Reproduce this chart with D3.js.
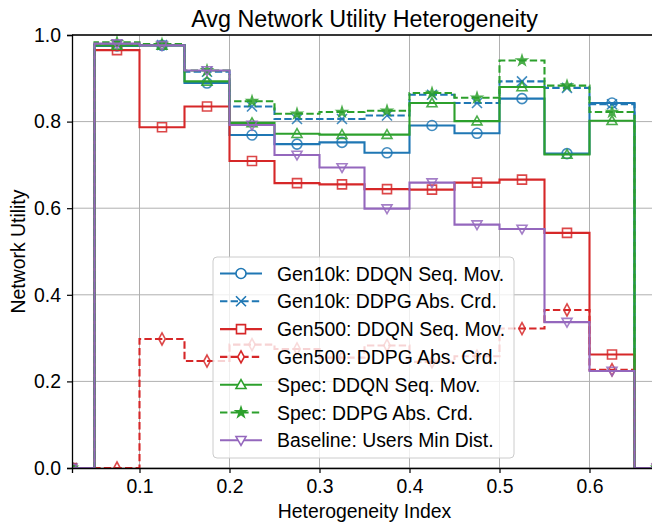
<!DOCTYPE html>
<html>
<head>
<meta charset="utf-8">
<script src="https://cdn.jsdelivr.net/npm/d3@7"></script>
<style>
  body { margin: 0; background: #fff; }
  svg { display: block; font-family: "Liberation Sans", Arial, sans-serif; }
</style>
</head>
<body>
<div id="chart"></div>
<script>
// heterogeneity index (bin centres)
const xValues = [0.025, 0.075, 0.125, 0.175, 0.225, 0.275, 0.325, 0.375, 0.425, 0.475, 0.525, 0.575, 0.625, 0.675];

const gen10kDDQN = [0, 0.975, 0.976, 0.889, 0.769, 0.748, 0.752, 0.728, 0.791, 0.773, 0.853, 0.726, 0.843, 0];
const gen10kDDPG = [0, 0.978, 0.977, 0.915, 0.835, 0.806, 0.806, 0.814, 0.862, 0.843, 0.893, 0.878, 0.840, 0];
const gen500DDQN = [0, 0.965, 0.787, 0.835, 0.709, 0.658, 0.655, 0.644, 0.643, 0.659, 0.666, 0.543, 0.262, 0];
const gen500DDPG = [0, 0, 0.298, 0.247, 0.285, 0.275, 0.255, 0.283, 0.245, 0.258, 0.322, 0.365, 0.227, 0];
const specDDQN = [0, 0.976, 0.976, 0.893, 0.797, 0.772, 0.770, 0.770, 0.843, 0.801, 0.880, 0.724, 0.802, 0];
const specDDPG = [0, 0.983, 0.979, 0.918, 0.847, 0.818, 0.822, 0.825, 0.866, 0.855, 0.941, 0.883, 0.822, 0];
const baseline = [0, 0.980, 0.976, 0.918, 0.792, 0.723, 0.694, 0.599, 0.659, 0.562, 0.552, 0.337, 0.224, 0];

const xTicks = [0.1, 0.2, 0.3, 0.4, 0.5, 0.6];
const yTicks = [0.0, 0.2, 0.4, 0.6, 0.8, 1.0];

const series = [
    {name: "Gen10k: DDQN Seq. Mov.", values: gen10kDDQN, color: "#1f77b4", dash: null, marker: "circle"},
    {name: "Gen10k: DDPG Abs. Crd.", values: gen10kDDPG, color: "#1f77b4", dash: "7.4,3.2", marker: "x"},
    {name: "Gen500: DDQN Seq. Mov.", values: gen500DDQN, color: "#d62728", dash: null, marker: "square"},
    {name: "Gen500: DDPG Abs. Crd.", values: gen500DDPG, color: "#d62728", dash: "7.4,3.2", marker: "thin_diamond"},
    {name: "Spec: DDQN Seq. Mov.", values: specDDQN, color: "#2ca02c", dash: null, marker: "triangle_up"},
    {name: "Spec: DDPG Abs. Crd.", values: specDDPG, color: "#2ca02c", dash: "7.4,3.2", marker: "star"},
    {name: "Baseline: Users Min Dist.", values: baseline, color: "#9467bd", dash: null, marker: "triangle_down"}
];

const width = 652, height = 527;
const margin = {top: 35, right: -5, bottom: 59, left: 72};
const innerW = width - margin.left - margin.right;
const innerH = height - margin.top - margin.bottom;
const fontSize = "19.4px";

const x = d3.scaleLinear().domain([0.025, 0.675]).range([0, innerW]);
const y = d3.scaleLinear().domain([0, 1]).range([innerH, 0]);

const svg = d3.select("#chart").append("svg")
    .attr("width", width)
    .attr("height", height);

svg.append("defs").append("clipPath")
    .attr("id", "plot-clip")
    .append("rect")
    .attr("width", innerW)
    .attr("height", innerH);

const g = svg.append("g")
    .attr("transform", `translate(${margin.left},${margin.top})`);

// grid
g.append("g")
    .selectAll("line")
    .data(xTicks)
    .join("line")
    .attr("x1", d => x(d)).attr("x2", d => x(d))
    .attr("y1", 0).attr("y2", innerH)
    .attr("stroke", "#b0b0b0").attr("stroke-width", 1);

g.append("g")
    .selectAll("line")
    .data(yTicks)
    .join("line")
    .attr("x1", 0).attr("x2", innerW)
    .attr("y1", d => y(d)).attr("y2", d => y(d))
    .attr("stroke", "#b0b0b0").attr("stroke-width", 1);

// marker shapes, centred at 0,0
function markerPath(type) {
    const r = 5;
    switch (type) {
        case "circle": return d3.symbol(d3.symbolCircle, Math.PI * r * r)();
        case "square": return `M${-r * 0.9},${-r * 0.9}H${r * 0.9}V${r * 0.9}H${-r * 0.9}Z`;
        case "x": return `M${-r},${-r}L${r},${r}M${-r},${r}L${r},${-r}`;
        case "thin_diamond": return `M0,${-r * 1.2}L${r * 0.65},0L0,${r * 1.2}L${-r * 0.65},0Z`;
        case "triangle_up": return `M0,${-r}L${r},${r * 0.75}L${-r},${r * 0.75}Z`;
        case "triangle_down": return `M0,${r}L${r},${-r * 0.75}L${-r},${-r * 0.75}Z`;
        case "star": return d3.symbol(d3.symbolStar, 30)();
    }
}

const line = d3.line()
    .x(d => x(d[0]))
    .y(d => y(d[1]))
    .curve(d3.curveStep);

const plot = g.append("g").attr("clip-path", "url(#plot-clip)");

series.forEach(s => {
    const pts = xValues.map((xv, i) => [xv, s.values[i]]);
    const sg = plot.append("g");
    sg.append("path")
        .datum(pts)
        .attr("d", line)
        .attr("fill", "none")
        .attr("stroke", s.color)
        .attr("stroke-width", 2.1)
        .attr("stroke-dasharray", s.dash);
    sg.selectAll("path.mk")
        .data(pts)
        .join("path")
        .attr("class", "mk")
        .attr("transform", d => `translate(${x(d[0])},${y(d[1])})`)
        .attr("d", markerPath(s.marker))
        .attr("fill", s.marker === "star" ? s.color : "none")
        .attr("stroke", s.color)
        .attr("stroke-width", 1.6)
        .attr("opacity", 0.85);
});

// axes
const xAxis = g.append("g")
    .attr("transform", `translate(0,${innerH})`)
    .call(d3.axisBottom(x).tickValues(xTicks).tickFormat(d3.format(".1f")).tickSizeOuter(0).tickSize(5).tickPadding(6));
const yAxis = g.append("g")
    .call(d3.axisLeft(y).tickValues(yTicks).tickFormat(d3.format(".1f")).tickSizeOuter(0).tickSize(5).tickPadding(6));

[xAxis, yAxis].forEach(a => {
    a.select(".domain").attr("stroke", "#000").attr("stroke-width", 1.3);
    a.selectAll(".tick line").attr("stroke", "#000").attr("stroke-width", 1.2);
    a.selectAll(".tick text").attr("fill", "#000").style("font-size", fontSize)
        .style("font-family", "'Liberation Sans', Arial, sans-serif");
});

// top spine
g.append("line")
    .attr("x1", 0).attr("x2", innerW)
    .attr("y1", 0).attr("y2", 0)
    .attr("stroke", "#000").attr("stroke-width", 1.3);

// title and labels
svg.append("text")
    .attr("x", margin.left + innerW / 2)
    .attr("y", 27)
    .attr("text-anchor", "middle")
    .style("font-size", "23.3px")
    .text("Avg Network Utility Heterogeneity");

svg.append("text")
    .attr("x", margin.left + innerW / 2)
    .attr("y", 518)
    .attr("text-anchor", "middle")
    .style("font-size", fontSize)
    .text("Heterogeneity Index");

svg.append("text")
    .attr("transform", `translate(25,${margin.top + innerH / 2}) rotate(-90)`)
    .attr("text-anchor", "middle")
    .style("font-size", fontSize)
    .text("Network Utility");

// legend
const legend = svg.append("g").attr("transform", "translate(213,257)");
legend.append("rect")
    .attr("width", 301).attr("height", 201)
    .attr("rx", 4)
    .attr("fill", "#fff").attr("fill-opacity", 0.8)
    .attr("stroke", "#cccccc").attr("stroke-width", 1);

const rowH = 27.8;
series.forEach((s, i) => {
    const ly = 16.5 + i * rowH;
    const item = legend.append("g").attr("transform", `translate(0,${ly})`);
    item.append("line")
        .attr("x1", 7).attr("x2", 49)
        .attr("stroke", s.color).attr("stroke-width", 2.1)
        .attr("stroke-dasharray", s.dash);
    item.append("path")
        .attr("transform", "translate(28,0)")
        .attr("d", markerPath(s.marker))
        .attr("fill", s.marker === "star" ? s.color : "#fff")
        .attr("stroke", s.color)
        .attr("stroke-width", 1.6);
    item.append("text")
        .attr("x", 64)
        .attr("y", 7)
        .style("font-size", fontSize)
        .text(s.name);
});
</script>
</body>
</html>
